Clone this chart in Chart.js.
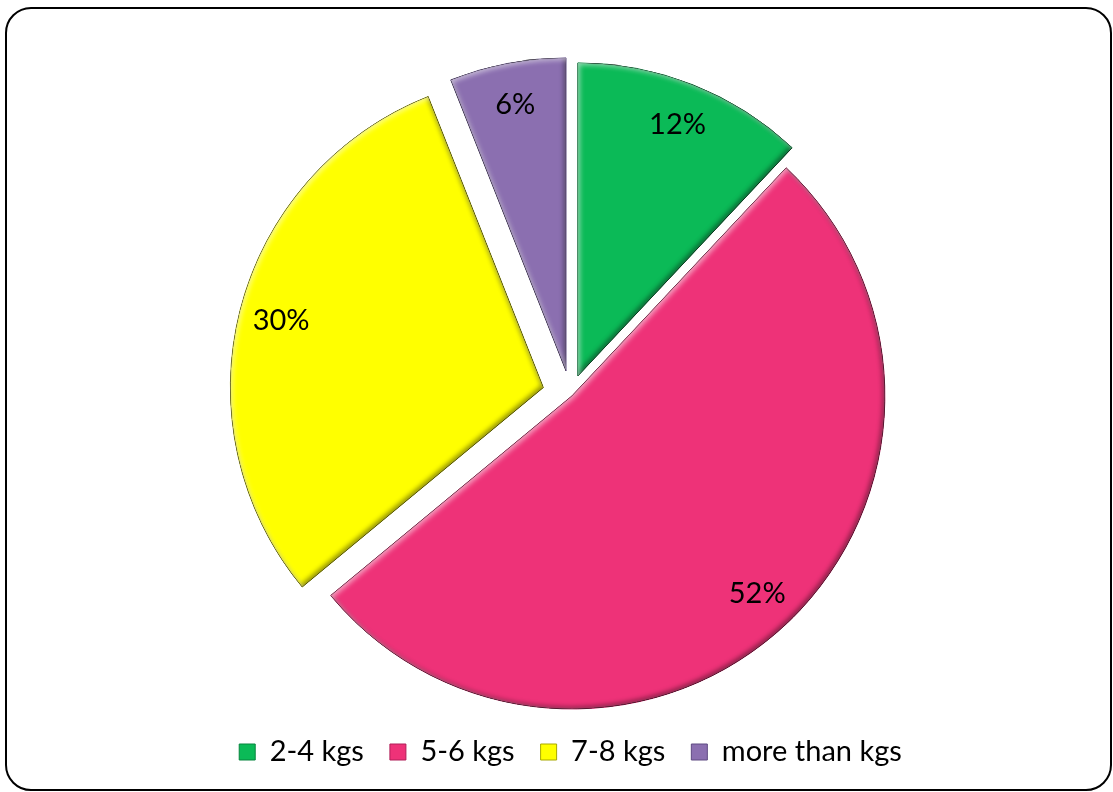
<!DOCTYPE html>
<html>
<head>
<meta charset="utf-8">
<script src="https://cdn.jsdelivr.net/npm/chart.js@4.4.1/dist/chart.umd.min.js"></script>
<style>
  html, body { margin: 0; padding: 0; background: #fff; overflow: hidden; }
  #frame {
    position: absolute; left: 5px; top: 7px; width: 1107px; height: 784px;
    box-sizing: border-box; border: 2.5px solid #000; border-radius: 26px;
  }
  #wrap { position: absolute; left: 0; top: 0; width: 1113px; height: 792px; }
</style>
</head>
<body>
<div id="frame"></div>
<div id="wrap"><canvas id="chart" width="1113" height="792"></canvas></div>
<script>
// Weight groups and their share of respondents (%)
const categories = ['2-4 kgs', '5-6 kgs', '7-8 kgs', 'more than kgs'];
const shares = [12, 52, 30, 6];

// Slice styling
const sliceColors = ['#0bba57', '#ee3278', '#ffff00', '#8b6fb0'];
const edgeColors = ['#07853e', '#b01f58', '#a8a800', '#5f4a82'];
const explodeDistance = [20, 2, 28, 24];   // px each slice is pulled out
const labelRadius = 0.865;                 // label distance as fraction of radius

// Pull every slice out along its mid-angle from the pie centre
const explodePlugin = {
  id: 'explodeSlices',
  beforeDatasetsDraw(chart) {
    const area = chart.chartArea;
    const cx = (area.left + area.right) / 2;
    const cy = (area.top + area.bottom) / 2;
    chart.getDatasetMeta(0).data.forEach((arc, i) => {
      const mid = (arc.startAngle + arc.endAngle) / 2;
      arc.x = cx + Math.cos(mid) * explodeDistance[i];
      arc.y = cy + Math.sin(mid) * explodeDistance[i];
    });
  }
};

// Soft bevel: light rim on upper-left edges, shade on lower-right edges
const bevelPlugin = {
  id: 'bevel',
  afterDatasetsDraw(chart) {
    const ctx = chart.ctx;
    chart.getDatasetMeta(0).data.forEach((arc) => {
      const path = () => {
        ctx.moveTo(arc.x, arc.y);
        ctx.arc(arc.x, arc.y, arc.outerRadius, arc.startAngle, arc.endAngle);
        ctx.closePath();
      };
      const rim = (color, dx, dy, blur) => {
        ctx.save();
        ctx.beginPath(); path(); ctx.clip();
        ctx.beginPath();
        ctx.rect(-5000, -5000, 12000, 12000);
        path();
        ctx.shadowColor = color;
        ctx.shadowBlur = blur;
        ctx.shadowOffsetX = dx;
        ctx.shadowOffsetY = dy;
        ctx.fillStyle = '#000';
        ctx.fill('evenodd');
        ctx.restore();
      };
      rim('rgba(0,0,0,0.45)', -2, -2, 5);
      rim('rgba(255,255,255,0.55)', 2, 2, 5);
    });
  }
};

// Percentage labels inside each slice
const labelPlugin = {
  id: 'sliceLabels',
  afterDatasetsDraw(chart) {
    const ctx = chart.ctx;
    ctx.save();
    ctx.font = '29px Lato';
    ctx.fillStyle = '#000';
    ctx.textAlign = 'center';
    ctx.textBaseline = 'middle';
    chart.getDatasetMeta(0).data.forEach((arc, i) => {
      const mid = (arc.startAngle + arc.endAngle) / 2;
      const r = arc.outerRadius * labelRadius;
      ctx.fillText(shares[i] + '%', arc.x + Math.cos(mid) * r, arc.y + Math.sin(mid) * r);
    });
    ctx.restore();
  }
};

new Chart(document.getElementById('chart'), {
  type: 'pie',
  data: {
    labels: categories,
    datasets: [{
      data: shares,
      backgroundColor: sliceColors,
      borderColor: edgeColors,
      borderWidth: 1,
      radius: 313,
      clip: false
    }]
  },
  options: {
    responsive: false,
    animation: false,
    events: [],
    layout: { padding: { left: 28, right: 0, top: 77.5, bottom: 15.5 } },
    plugins: {
      tooltip: { enabled: false },
      legend: {
        position: 'bottom',
        labels: {
          font: { family: 'Lato', size: 29 },
          color: '#000',
          boxWidth: 16,
          boxHeight: 16,
          padding: 26
        }
      }
    }
  },
  plugins: [explodePlugin, bevelPlugin, labelPlugin]
});
</script>
</body>
</html>
